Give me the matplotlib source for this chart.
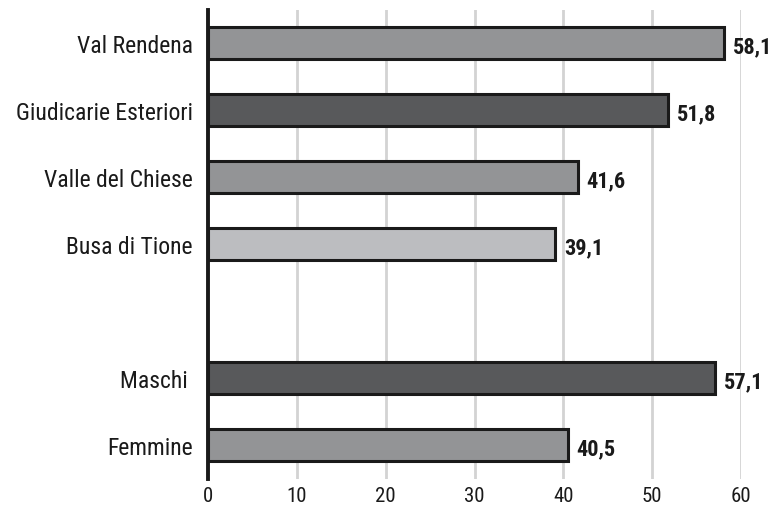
import matplotlib
matplotlib.use("Agg")
import matplotlib.pyplot as plt
from matplotlib import font_manager

categories = ["Val Rendena", "Giudicarie Esteriori", "Valle del Chiese", "Busa di Tione", "Maschi ", "Femmine"]
values = [58.1, 51.8, 41.6, 39.1, 57.1, 40.5]
value_labels = ["58,1", "51,8", "41,6", "39,1", "57,1", "40,5"]
positions = [0, 1, 2, 3, 5, 6]
colors = ["#939496", "#58595b", "#939496", "#bcbdc0", "#58595b", "#939496"]
xticks = [0, 10, 20, 30, 40, 50, 60]

available = {f.name for f in font_manager.fontManager.ttflist}
family = None
for cand in ["Roboto Condensed", "Liberation Sans Narrow", "DejaVu Sans Condensed", "Roboto"]:
    if cand in available:
        family = cand
        break
if family:
    plt.rcParams["font.family"] = [family, "DejaVu Sans"]

fig = plt.figure(figsize=(7.76, 5.10), dpi=100)
ax = fig.add_axes([0.268, 0.0588, 0.955 - 0.268, 0.978 - 0.0588])

ax.barh(positions, values, height=0.48, color=colors, edgecolor="#1a1a1a", linewidth=2.2, zorder=3)

for p, v, lab in zip(positions, values, value_labels):
    ax.text(v + 0.95, p + 0.05, lab, va="center", ha="left", fontsize=16, fontweight="bold", color="#1a1a1a")

ax.set_xlim(0, 60)
ax.set_ylim(6.51, -0.49)
ax.set_yticks(positions)
ax.set_yticklabels(categories, fontsize=17, color="#1a1a1a")
ax.set_xticks(xticks)
ax.set_xticklabels([str(t) for t in xticks], fontsize=15, color="#1a1a1a")
ax.tick_params(axis="y", length=0, pad=11)
ax.tick_params(axis="x", length=0, pad=5)

for t in xticks[1:]:
    ax.axvline(t, color="#d3d3d3", linewidth=2, zorder=1)

for s in ["top", "right", "bottom"]:
    ax.spines[s].set_visible(False)
ax.spines["left"].set_linewidth(2.8)
ax.spines["left"].set_color("#1a1a1a")
ax.spines["left"].set_zorder(4)

fig.savefig("out.png", dpi=100)
